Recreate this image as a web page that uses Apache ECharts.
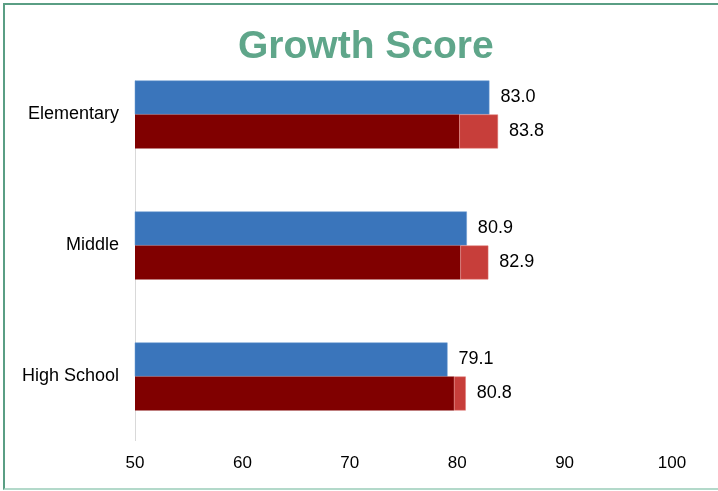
<!DOCTYPE html>
<html>
<head>
<meta charset="utf-8">
<script src="https://cdn.jsdelivr.net/npm/echarts@6/dist/echarts.min.js"></script>
<style>
html,body{margin:0;padding:0;background:#fff;}
#wrap{position:relative;width:718px;height:491px;overflow:hidden;}
#chart{position:absolute;left:0;top:0;width:718px;height:491px;}
#frame{position:absolute;left:3px;top:3px;width:730px;height:483px;border-left:2px solid #5a9e84;border-top:2px solid #5a9e84;border-bottom:2px solid #b3d9ca;pointer-events:none;}
</style>
</head>
<body>
<div id="wrap"><div id="chart"></div><div id="frame"></div></div>
<script>
const categories = ['Elementary', 'Middle', 'High School'];
const blueValues = [83.0, 80.9, 79.1];
const redTotals = [83.8, 82.9, 80.8];
const redBase = [80.2, 80.3, 79.7];
const xTicks = [50, 60, 70, 80, 90, 100];

const redExtra = redTotals.map((v, i) => +(v - redBase[i]).toFixed(2));
const font = 'Liberation Sans, Arial, sans-serif';
const BAR = 34;

const chart = echarts.init(document.getElementById('chart'));
chart.setOption({
  animation: false,
  title: {
    text: 'Growth Score',
    left: 233,
    top: 23,
    textStyle: { color: '#5fa68a', fontSize: 39, fontWeight: 'bold', fontFamily: font }
  },
  grid: { left: 135, width: 537, top: 49, height: 393, containLabel: false },
  xAxis: {
    type: 'value',
    min: xTicks[0],
    max: xTicks[xTicks.length - 1],
    interval: 10,
    axisLine: { show: false },
    axisTick: { show: false },
    splitLine: { show: false },
    axisLabel: { color: '#000', fontSize: 17, fontFamily: font, margin: 13 }
  },
  yAxis: {
    type: 'category',
    data: categories,
    inverse: true,
    axisLine: { show: false },
    axisTick: { show: false },
    axisLabel: { color: '#000', fontSize: 18, fontFamily: font, margin: 16 }
  },
  series: [
    {
      type: 'bar',
      data: blueValues,
      barWidth: BAR,
      barGap: '0%',
      itemStyle: { color: '#3a75bb', borderColor: '#6b9bd2', borderWidth: 0.5 },
      label: {
        show: true, position: 'right', distance: 11, color: '#000',
        fontSize: 18, fontFamily: font,
        formatter: p => blueValues[p.dataIndex].toFixed(1)
      }
    },
    {
      type: 'bar',
      stack: 'red',
      data: redBase,
      barWidth: BAR,
      barGap: '0%',
      itemStyle: { color: '#800000' }
    },
    {
      type: 'bar',
      stack: 'red',
      data: redExtra,
      barWidth: BAR,
      barGap: '0%',
      itemStyle: { color: '#c73e3a', borderColor: '#e07a76', borderWidth: 0.5 },
      label: {
        show: true, position: 'right', distance: 11, color: '#000',
        fontSize: 18, fontFamily: font,
        formatter: p => redTotals[p.dataIndex].toFixed(1)
      }
    }
  ]
});

// y axis line: from top of first group's bars down to the bottom of the last band, via the library's scales
const pFirst = chart.convertToPixel({ gridIndex: 0 }, [xTicks[0], 0]);
const pSecond = chart.convertToPixel({ gridIndex: 0 }, [xTicks[0], 1]);
const pLast = chart.convertToPixel({ gridIndex: 0 }, [xTicks[0], categories.length - 1]);
const band = pSecond[1] - pFirst[1];
chart.setOption({
  graphic: [{
    type: 'line',
    shape: { x1: pFirst[0] + 0.5, y1: pFirst[1] - BAR, x2: pFirst[0] + 0.5, y2: pLast[1] + band / 2 - 1 },
    style: { stroke: '#d9d9d9', lineWidth: 1 },
    z: 0
  }]
});
</script>
</body>
</html>
